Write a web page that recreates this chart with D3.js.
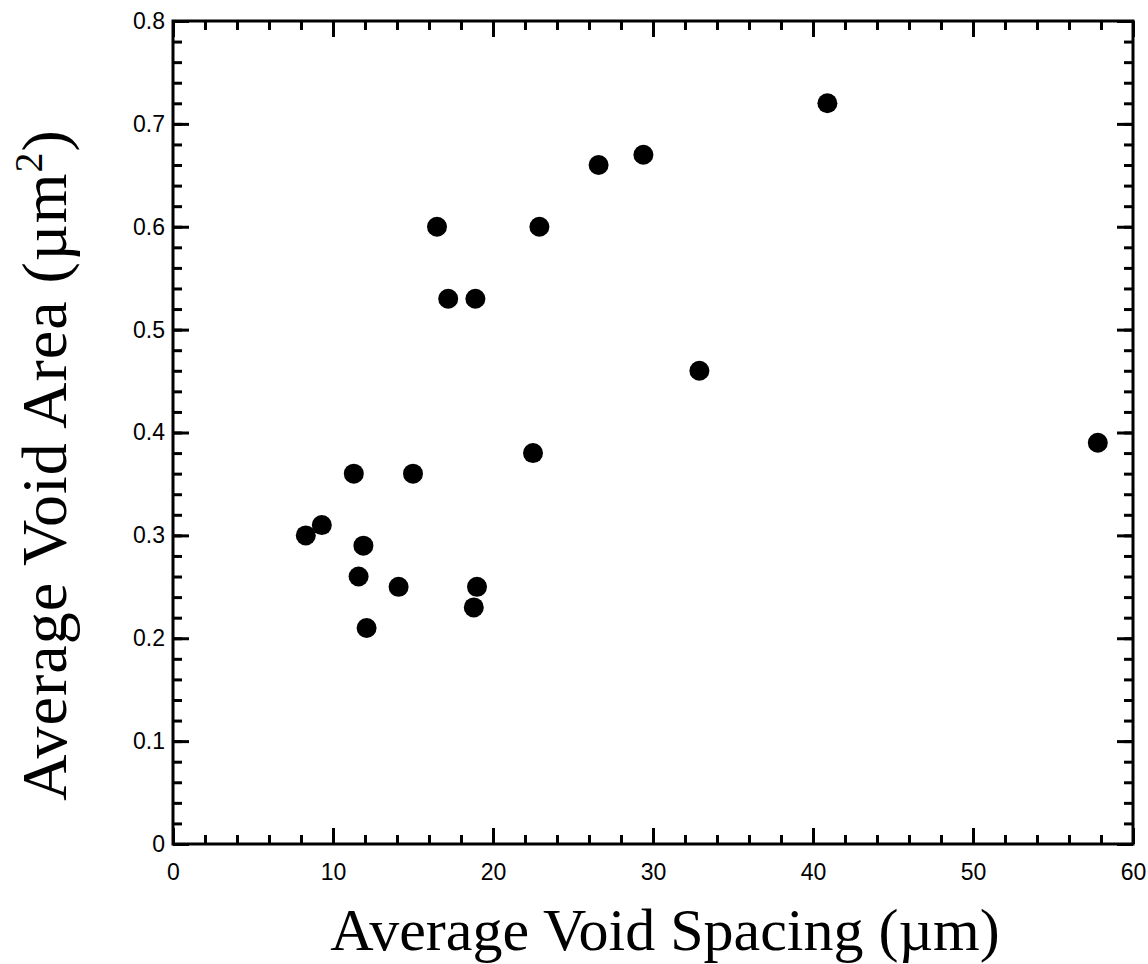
<!DOCTYPE html>
<html>
<head>
<meta charset="utf-8">
<script src="https://cdn.jsdelivr.net/npm/d3@7"></script>
<style>
  body { margin: 0; background: #fff; }
  svg { display: block; }
  .tick text { font-family: "Liberation Sans", Arial, sans-serif; font-size: 23px; fill: #000; }
  .title { font-family: "Liberation Serif", "Times New Roman", serif; font-size: 60px; fill: #000; }
</style>
</head>
<body>
<script>
// values
var spacing = [8.3, 9.3, 11.3, 15.0, 11.9, 11.6, 14.1, 19.0, 18.8, 12.1, 22.5,
               16.5, 22.9, 17.2, 18.9, 26.6, 29.4, 32.9, 40.9, 57.8];
var area    = [0.30, 0.31, 0.36, 0.36, 0.29, 0.26, 0.25, 0.25, 0.23, 0.21, 0.38,
               0.60, 0.60, 0.53, 0.53, 0.66, 0.67, 0.46, 0.72, 0.39];
var xTicks = [0, 10, 20, 30, 40, 50, 60];
var yTicks = [0, 0.1, 0.2, 0.3, 0.4, 0.5, 0.6, 0.7, 0.8];

var width = 1148, height = 964;
var mLeft = 173, mRight = 1133, mTop = 21, mBottom = 844;

var svg = d3.select('body').append('svg').attr('width', width).attr('height', height);

var x = d3.scaleLinear().domain([0, 60]).range([mLeft, mRight]);
var y = d3.scaleLinear().domain([0, 0.8]).range([mBottom, mTop]);

// minor ticks every 2 / 0.02
var xMinor = d3.range(0, 61, 2);
var yMinor = d3.range(0, 41).map(function(i){ return i * 0.02; });

function styleAxis(g){
    g.select('.domain').remove();
    g.selectAll('.tick line').attr('stroke', '#000').attr('stroke-width', 3);
}

// bottom: inner ticks + labels
svg.append('g').attr('transform', 'translate(0,' + mBottom + ')')
    .call(d3.axisTop(x).tickValues(xMinor).tickSize(9).tickFormat(''))
    .call(styleAxis);
svg.append('g').attr('transform', 'translate(0,' + mBottom + ')')
    .call(d3.axisTop(x).tickValues(xTicks).tickSize(16).tickFormat(''))
    .call(styleAxis);
svg.append('g').attr('transform', 'translate(0,' + mBottom + ')')
    .call(d3.axisBottom(x).tickValues(xTicks).tickSize(0).tickPadding(20).tickFormat(d3.format('d')))
    .call(styleAxis);

// top
svg.append('g').attr('transform', 'translate(0,' + mTop + ')')
    .call(d3.axisBottom(x).tickValues(xMinor).tickSize(9).tickFormat(''))
    .call(styleAxis);
svg.append('g').attr('transform', 'translate(0,' + mTop + ')')
    .call(d3.axisBottom(x).tickValues(xTicks).tickSize(16).tickFormat(''))
    .call(styleAxis);

// left
svg.append('g').attr('transform', 'translate(' + mLeft + ',0)')
    .call(d3.axisRight(y).tickValues(yMinor).tickSize(9).tickFormat(''))
    .call(styleAxis);
svg.append('g').attr('transform', 'translate(' + mLeft + ',0)')
    .call(d3.axisRight(y).tickValues(yTicks).tickSize(16).tickFormat(''))
    .call(styleAxis);
svg.append('g').attr('transform', 'translate(' + mLeft + ',0)')
    .call(d3.axisLeft(y).tickValues(yTicks).tickSize(0).tickPadding(8)
        .tickFormat(function(d){ return d === 0 ? '0' : d3.format('.1f')(d); }))
    .call(styleAxis);

// right
svg.append('g').attr('transform', 'translate(' + mRight + ',0)')
    .call(d3.axisLeft(y).tickValues(yMinor).tickSize(9).tickFormat(''))
    .call(styleAxis);
svg.append('g').attr('transform', 'translate(' + mRight + ',0)')
    .call(d3.axisLeft(y).tickValues(yTicks).tickSize(16).tickFormat(''))
    .call(styleAxis);

// frame
svg.append('rect')
    .attr('x', mLeft).attr('y', mTop)
    .attr('width', mRight - mLeft).attr('height', mBottom - mTop)
    .attr('fill', 'none').attr('stroke', '#000').attr('stroke-width', 3);

// points
svg.append('g').selectAll('circle')
    .data(spacing)
    .join('circle')
    .attr('cx', function(d){ return x(d); })
    .attr('cy', function(d, i){ return y(area[i]); })
    .attr('r', 10)
    .attr('fill', '#000');

// axis titles
svg.append('text').attr('class', 'title')
    .attr('x', 665).attr('y', 950)
    .attr('text-anchor', 'middle')
    .text('Average Void Spacing (\u00b5m)');

var yt = svg.append('text').attr('class', 'title')
    .attr('transform', 'translate(66,465) rotate(-90)')
    .attr('text-anchor', 'middle')
    .style('font-size', '64px')
    .attr('letter-spacing', 1);
yt.append('tspan').text('Average Void Area (\u00b5m');
yt.append('tspan').attr('dy', -24).style('font-size', '40px').text('2');
yt.append('tspan').attr('dy', 24).text(')');
</script>
</body>
</html>
